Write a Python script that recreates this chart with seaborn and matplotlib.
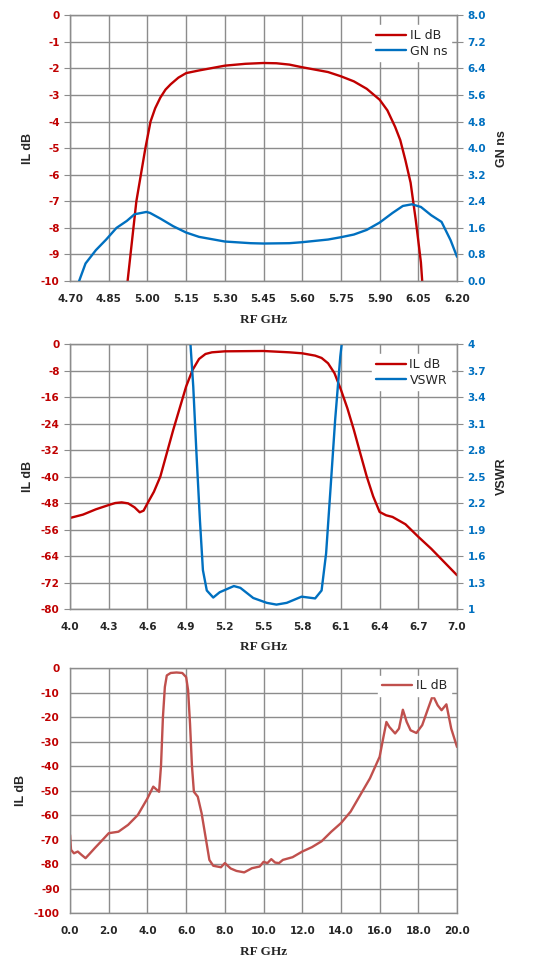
import matplotlib
matplotlib.use("Agg")
import matplotlib.pyplot as plt
import seaborn as sns

# chart 1: narrow band, IL and group delay
f1_il = [4.923, 4.957, 4.992, 5.012, 5.03, 5.05, 5.07, 5.09, 5.12, 5.15, 5.20, 5.25, 5.30,
         5.38, 5.45, 5.50, 5.55, 5.60, 5.70, 5.75, 5.80, 5.85, 5.90, 5.93, 5.96, 5.98, 6.00,
         6.02, 6.04, 6.06, 6.065]
il1 = [-10.0, -7.0, -5.0, -4.0, -3.5, -3.1, -2.8, -2.6, -2.35, -2.18, -2.08, -1.99, -1.90,
       -1.83, -1.80, -1.81, -1.86, -1.96, -2.14, -2.30, -2.49, -2.77, -3.18, -3.58, -4.2,
       -4.7, -5.46, -6.3, -7.7, -9.3, -10.0]
f1_gd = [4.735, 4.76, 4.80, 4.84, 4.88, 4.92, 4.95, 4.996, 5.01, 5.05, 5.10, 5.15, 5.20, 5.30,
         5.40, 5.45, 5.55, 5.60, 5.70, 5.75, 5.80, 5.85, 5.90, 5.95, 5.99, 6.025, 6.06, 6.10,
         6.14, 6.175, 6.20]
gd1 = [0.0, 0.53, 0.93, 1.25, 1.60, 1.81, 2.01, 2.08, 2.05, 1.88, 1.65, 1.46, 1.33, 1.19,
       1.14, 1.13, 1.14, 1.17, 1.25, 1.32, 1.40, 1.54, 1.76, 2.05, 2.26, 2.31, 2.23, 1.98,
       1.78, 1.23, 0.73]

# chart 2: IL and VSWR
f2_il = [4.0, 4.1, 4.2, 4.3, 4.35, 4.4, 4.45, 4.5, 4.54, 4.57, 4.6, 4.65, 4.7, 4.8, 4.9, 4.95,
         5.0, 5.05, 5.1, 5.2, 5.5, 5.7, 5.8, 5.9, 5.95, 6.0, 6.05, 6.1, 6.15, 6.2, 6.25, 6.3,
         6.35, 6.4, 6.45, 6.5, 6.6, 6.7, 6.8, 6.9, 7.0]
il2 = [-52.5, -51.5, -49.9, -48.6, -48.0, -47.8, -48.1, -49.3, -50.8, -50.3, -48.1, -44.6,
       -40.0, -25.9, -12.8, -7.8, -4.5, -3.0, -2.5, -2.2, -2.1, -2.5, -2.8, -3.5, -4.2, -5.8,
       -8.8, -13.8, -19.4, -25.9, -33.0, -40.0, -46.0, -50.7, -51.7, -52.2, -54.4, -58.2,
       -61.8, -65.8, -69.8]
f2_vswr = [4.92, 4.955, 4.98, 5.007, 5.03, 5.06, 5.11, 5.16, 5.27, 5.32, 5.42, 5.525, 5.60,
           5.68, 5.795, 5.90, 5.95, 5.985, 6.02, 6.055, 6.095, 6.13]
vswr2 = [4.3, 3.52, 2.76, 2.0, 1.44, 1.21, 1.13, 1.19, 1.26, 1.24, 1.125, 1.07, 1.05, 1.07,
         1.14, 1.12, 1.21, 1.63, 2.38, 3.14, 3.86, 4.3]

# chart 3: wideband IL
f3 = [0.0, 0.05, 0.2, 0.4, 0.6, 0.8, 1.0, 1.3, 1.6, 2.0, 2.5, 3.0, 3.5, 4.0, 4.3, 4.5, 4.6,
      4.7, 4.8, 4.9, 5.0, 5.2, 5.5, 5.8, 6.0, 6.1, 6.2, 6.3, 6.4, 6.6, 6.8, 7.0, 7.2, 7.4,
      7.8, 8.0, 8.3, 8.6, 9.0, 9.4, 9.8, 10.0, 10.2, 10.4, 10.6, 10.8, 11.0, 11.5, 12.0,
      12.5, 13.0, 13.5, 14.0, 14.5, 15.0, 15.5, 16.0, 16.2, 16.35, 16.5, 16.8, 17.0, 17.2,
      17.4, 17.6, 17.9, 18.2, 18.5, 18.75, 19.0, 19.2, 19.45, 19.7, 20.0]
il3 = [-68.1, -74.2, -75.6, -74.9, -76.3, -77.6, -75.9, -73.3, -70.8, -67.4, -66.8, -64.0,
       -60.0, -53.2, -48.4, -49.8, -50.5, -40.0, -20.0, -7.7, -3.0, -2.0, -1.8, -2.0, -3.7,
       -9.0, -22.7, -40.0, -50.5, -52.5, -59.3, -68.8, -78.3, -80.7, -81.3, -79.6, -81.8,
       -82.8, -83.4, -81.7, -81.0, -79.1, -79.6, -78.0, -79.4, -79.6, -78.3, -77.2, -74.9,
       -73.1, -70.7, -66.8, -63.3, -58.6, -51.8, -45.0, -36.2, -28.0, -22.0, -24.0, -26.7,
       -24.7, -17.0, -22.0, -25.4, -26.5, -23.3, -16.6, -11.1, -15.2, -17.2, -14.8, -24.7,
       -32.2]

RED = "#C00000"
BLUE = "#0070C0"
RED3 = "#C0504D"
GRID = "#8C8C8C"

sns.set_style("white")
plt.rcParams["font.family"] = ["DejaVu Sans"]
plt.rcParams["axes.unicode_minus"] = False

fig = plt.figure(figsize=(5.56, 9.76), dpi=100)


def style_axes(ax, xlim, xticks, xfmt, ylim, yticks, ylab_x, xlab_y):
    ax.set_xlim(*xlim)
    ax.set_ylim(*ylim)
    ax.set_xticks(xticks)
    ax.set_yticks(yticks)
    ax.set_xticklabels([xfmt.format(t) for t in xticks])
    ax.set_yticklabels([str(t) for t in yticks])
    ax.grid(True, color=GRID, linewidth=1)
    for s in ax.spines.values():
        s.set_color(GRID)
        s.set_linewidth(1)
    ax.tick_params(axis="both", direction="out", length=4, color=GRID, labelsize=7.5)
    ax.tick_params(axis="x", pad=5)
    for lab in ax.get_xticklabels():
        lab.set_fontweight("bold")
    for lab in ax.get_yticklabels():
        lab.set_fontweight("bold")
        lab.set_color(RED)
    ax.set_xlabel("RF GHz", family="Liberation Serif", fontweight="bold", fontsize=9.5)
    ax.xaxis.set_label_coords(0.5, xlab_y)
    ax.set_ylabel("IL dB", family="Liberation Sans", fontweight="bold", fontsize=9)
    ax.yaxis.set_label_coords(ylab_x, 0.5)


def style_right(ax2, ylim, yticks, labels, name):
    ax2.set_ylim(*ylim)
    ax2.set_yticks(yticks)
    ax2.set_yticklabels(labels)
    ax2.tick_params(axis="y", direction="out", length=4, color=GRID, labelsize=7.5)
    for lab in ax2.get_yticklabels():
        lab.set_fontweight("bold")
        lab.set_color(BLUE)
    for s in ax2.spines.values():
        s.set_color(GRID)
    ax2.grid(False)
    ax2.set_ylabel(name, family="Liberation Sans", fontweight="bold", fontsize=9)
    ax2.yaxis.set_label_coords(1.10, 0.5)


def legend(ax, handles, labels, top=0.985):
    leg = ax.legend(handles, labels, loc="upper right", frameon=True, fontsize=9,
                    bbox_to_anchor=(1.0, top), handlelength=2.4, borderpad=0.3,
                    labelspacing=0.2, handletextpad=0.3, fancybox=False)
    leg.get_frame().set_facecolor("white")
    leg.get_frame().set_edgecolor("white")
    leg.get_frame().set_alpha(1)
    leg.set_zorder(10)


# ---- chart 1
ax1 = fig.add_axes([0.126, 0.712, 0.696, 0.2725])
sns.lineplot(x=f1_il, y=il1, ax=ax1, color=RED, linewidth=1.7)
style_axes(ax1, (4.70, 6.20), [4.70 + 0.15 * i for i in range(11)], "{:.2f}",
           (-10, 0), list(range(-10, 1)), -0.093, -0.125)
ax1b = ax1.twinx()
sns.lineplot(x=f1_gd, y=gd1, ax=ax1b, color=BLUE, linewidth=1.7)
style_right(ax1b, (0, 8), [0.8 * i for i in range(11)],
            [f"{0.8 * i:.1f}" for i in range(11)], "GN ns")
ax1b.set_zorder(ax1.get_zorder() + 1)
legend(ax1b, [ax1.lines[0], ax1b.lines[0]], ["IL dB", "GN ns"])

# ---- chart 2
ax2 = fig.add_axes([0.126, 0.376, 0.696, 0.2715])
sns.lineplot(x=f2_il, y=il2, ax=ax2, color=RED, linewidth=1.7)
style_axes(ax2, (4.0, 7.0), [4.0 + 0.3 * i for i in range(11)], "{:.1f}",
           (-80, 0), list(range(-80, 1, 8)), -0.093, -0.12)
ax2b = ax2.twinx()
sns.lineplot(x=f2_vswr, y=vswr2, ax=ax2b, color=BLUE, linewidth=1.7)
vt = [1 + 0.3 * i for i in range(11)]
style_right(ax2b, (1, 4), vt, ["1"] + [f"{v:.1f}" for v in vt[1:-1]] + ["4"], "VSWR")
ax2b.set_zorder(ax2.get_zorder() + 1)
legend(ax2b, [ax2.lines[0], ax2b.lines[0]], ["IL dB", "VSWR"])

# ---- chart 3
ax3 = fig.add_axes([0.126, 0.0645, 0.696, 0.251])
sns.lineplot(x=f3, y=il3, ax=ax3, color=RED3, linewidth=1.7)
style_axes(ax3, (0, 20), [2.0 * i for i in range(11)], "{:.1f}",
           (-100, 0), list(range(-100, 1, 10)), -0.111, -0.135)
legend(ax3, [ax3.lines[0]], ["IL dB"], top=0.995)

fig.savefig("out.png", dpi=100)
